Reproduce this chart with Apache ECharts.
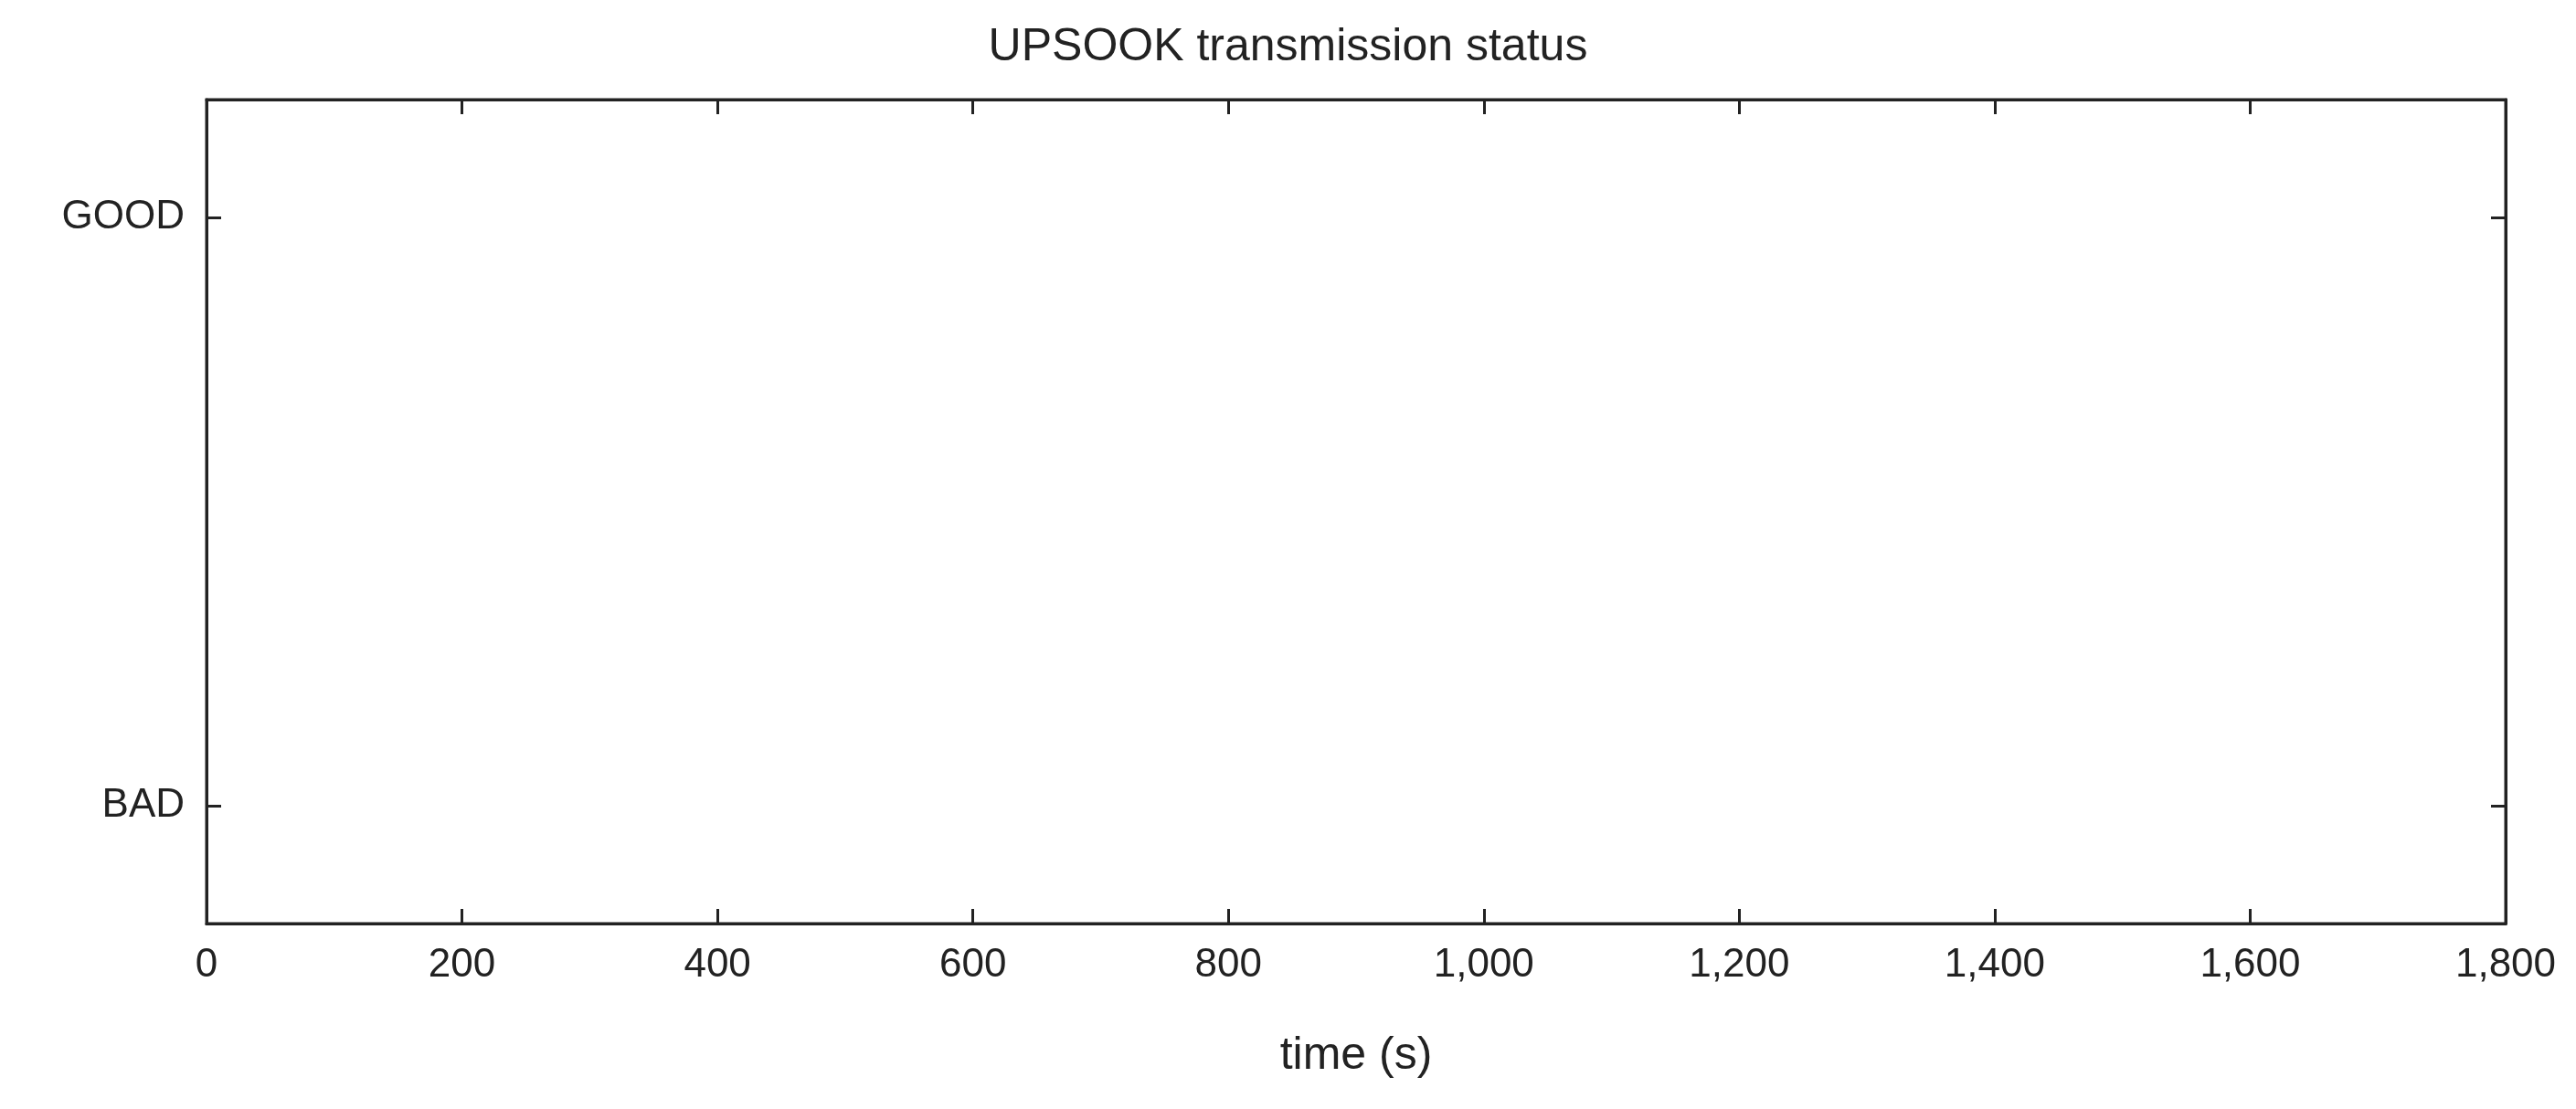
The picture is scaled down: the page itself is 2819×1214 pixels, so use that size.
<!DOCTYPE html>
<html>
<head>
<meta charset="utf-8">
<script src="https://cdn.jsdelivr.net/npm/echarts@6/dist/echarts.min.js"></script>
<style>html,body{margin:0;padding:0;background:#fff}#main{width:2819px;height:1214px}</style>
</head>
<body>
<div id="main"></div>
<script>
// status steps: 1 = GOOD, 0 = BAD
var times  = [0, 97, 97, 105, 105, 820, 820, 828, 828, 1544, 1544, 1552, 1552, 1800];
var status = [1, 1,  0,  0,   1,   1,   0,   0,   1,   1,    0,    0,    1,    1];
// y tick labels on a -0.2..1.2 grid in 0.2 steps
var yLabels = ['', 'BAD', '', '', '', '', 'GOOD', ''];

var points = times.map(function (t, i) { return [t, status[i]]; });
var font = 'Arial, "Liberation Sans", sans-serif';
var ink = '#222';
var tickOn = function (i) { return yLabels[i] !== ''; };

var myChart = echarts.init(document.getElementById('main'));
var option = {
    animation: false,
    title: {
        text: 'UPSOOK transmission status',
        left: 'center', top: 22,
        textStyle: { fontFamily: font, fontSize: 50, fontWeight: 'normal', color: ink }
    },
    grid: { left: 226, right: 77, top: 109, bottom: 203, show: true, borderColor: ink, borderWidth: 3 },
    xAxis: [{
        type: 'value', min: 0, max: 1800, interval: 200,
        name: 'time (s)', nameLocation: 'middle', nameGap: 120,
        nameTextStyle: { fontFamily: font, fontSize: 50, color: ink },
        axisLine: { onZero: false, lineStyle: { color: ink, width: 3 } },
        axisTick: { inside: true, length: 16, lineStyle: { color: ink, width: 3 } },
        axisLabel: { fontFamily: font, fontSize: 44, color: ink, margin: 24 },
        splitLine: { show: false }
    }, {
        type: 'value', min: 0, max: 1800, interval: 200, position: 'top',
        axisLine: { onZero: false, lineStyle: { color: ink, width: 3 } },
        axisTick: { inside: true, length: 16, lineStyle: { color: ink, width: 3 } },
        axisLabel: { show: false }, splitLine: { show: false }
    }],
    yAxis: [{
        type: 'category', data: yLabels, boundaryGap: false, position: 'left',
        axisLine: { show: true, onZero: false, lineStyle: { color: ink, width: 3 } },
        axisTick: { show: true, inside: true, length: 16, interval: tickOn, lineStyle: { color: ink, width: 3 } },
        axisLabel: { fontFamily: font, fontSize: 44, color: ink, margin: 24, interval: 0 },
        splitLine: { show: false }
    }, {
        type: 'category', data: yLabels, boundaryGap: false, position: 'right',
        axisLine: { show: true, onZero: false, lineStyle: { color: ink, width: 3 } },
        axisTick: { show: true, inside: true, length: 16, interval: tickOn, lineStyle: { color: ink, width: 3 } },
        axisLabel: { show: false }, splitLine: { show: false }
    }, {
        type: 'value', min: -0.2, max: 1.2, show: false
    }],
    series: [{
        type: 'line', data: points, showSymbol: false,
        xAxisIndex: 0, yAxisIndex: 2,
        lineStyle: { color: '#0072BD', width: 4 }
    }]
};
option && myChart.setOption(option);
</script>
</body>
</html>
